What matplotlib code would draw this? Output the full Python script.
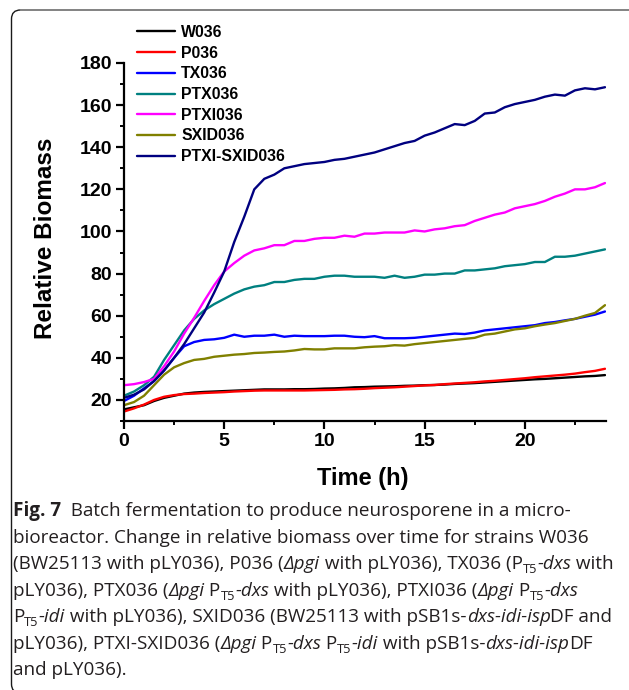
import matplotlib
matplotlib.use("Agg")
import matplotlib.pyplot as plt
from matplotlib.ticker import MultipleLocator
from matplotlib.patches import FancyBboxPatch
from matplotlib.transforms import IdentityTransform
from matplotlib.font_manager import FontProperties

# ---------------- data ----------------
time_h = [0, 0.5, 1, 1.5, 2, 2.5, 3, 3.5, 4, 4.5, 5, 5.5, 6, 6.5, 7, 7.5, 8,
          8.5, 9, 9.5, 10, 10.5, 11, 11.5, 12, 12.5, 13, 13.5, 14, 14.5, 15,
          15.5, 16, 16.5, 17, 17.5, 18, 18.5, 19, 19.5, 20, 20.5, 21, 21.5,
          22, 22.5, 23, 23.5, 24]

W036 = [15.5, 16.5, 17.5, 19.5, 21, 22, 23, 23.5, 23.8, 24, 24.2, 24.4, 24.6,
        24.8, 25, 25, 25, 25.1, 25.1, 25.2, 25.4, 25.5, 25.7, 26, 26.1, 26.3,
        26.4, 26.5, 26.7, 26.8, 27, 27.1, 27.3, 27.6, 27.8, 28, 28.3, 28.6,
        28.9, 29.2, 29.5, 29.8, 30, 30.3, 30.6, 30.9, 31.2, 31.4, 31.8]
P036 = [14.5, 16, 17.8, 20, 21.5, 22.3, 22.8, 23, 23.3, 23.5, 23.7, 24, 24.2,
        24.4, 24.5, 24.5, 24.5, 24.5, 24.5, 24.6, 24.7, 24.8, 25, 25.1, 25.3,
        25.6, 25.8, 26, 26.3, 26.6, 26.9, 27.1, 27.5, 27.8, 28.1, 28.4, 28.8,
        29.1, 29.5, 29.9, 30.3, 30.8, 31.2, 31.6, 32, 32.5, 33.2, 33.8, 34.8]
TX036 = [19.5, 22, 25.5, 29, 34, 40, 45.5, 47.5, 48.5, 48.8, 49.5, 51, 50,
         50.5, 50.5, 51, 50, 50.5, 50.3, 50.3, 50.3, 50.5, 50.5, 50, 49.8,
         50.3, 49.3, 49.3, 49.3, 49.5, 50, 50.5, 51, 51.5, 51.3, 52, 53, 53.5,
         54, 54.5, 55, 55.5, 56.5, 57, 57.8, 58.5, 59.5, 60.5, 62]
PTX036 = [22, 24, 27, 31, 39, 46, 53, 58.5, 62.5, 65.5, 68, 70.5, 72.5, 73.8,
          74.5, 76, 76, 77, 77.5, 77.5, 78.5, 79, 79, 78.5, 78.5, 78.5, 78,
          79, 78, 78.5, 79.5, 79.5, 80, 80, 81.5, 81.5, 82, 82.5, 83.5, 84,
          84.5, 85.5, 85.5, 88, 88, 88.5, 89.5, 90.5, 91.5]
PTXI036 = [27, 27.5, 28.5, 30, 36, 43, 51.5, 59, 67, 74.5, 81, 85, 88.5, 91,
           92, 93.5, 93.5, 95.5, 95.5, 96.5, 97, 97, 98, 97.5, 99, 99, 99.5,
           99.5, 99.5, 100.5, 100, 101, 101.5, 102.5, 103, 105, 106.5, 108,
           109, 111, 112, 113, 114.5, 116.5, 118, 120, 120, 121, 123]
SXID036 = [17.5, 19, 22, 27, 32, 35.5, 37.5, 39, 39.5, 40.5, 41, 41.5, 41.8,
           42.3, 42.5, 42.8, 43, 43.5, 44.2, 44, 44, 44.5, 44.5, 44.5, 45,
           45.3, 45.5, 46, 45.8, 46.5, 47, 47.5, 48, 48.5, 49, 49.5, 51, 51.5,
           52.5, 53.5, 54, 55, 55.8, 56.5, 57.5, 58.5, 60, 61.3, 65]
PTXI_SXID036 = [21, 22.5, 25, 29, 34, 40, 46.5, 54, 61.5, 71, 81, 95, 107,
                120, 125, 127, 130, 131, 132, 132.5, 133, 134, 134.5, 135.5,
                136.5, 137.5, 139, 140.5, 142, 143, 145.5, 147, 149, 151,
                150.5, 152.5, 156, 156.5, 159, 160.5, 161.5, 162.5, 164, 165,
                164.5, 167, 168, 167.5, 168.5]

series_names = ["W036", "P036", "TX036", "PTX036", "PTXI036", "SXID036",
                "PTXI-SXID036"]
series_values = [W036, P036, TX036, PTX036, PTXI036, SXID036, PTXI_SXID036]
series_colors = ["#000000", "#ff0000", "#0000ff", "#008080", "#ff00ff",
                 "#808000", "#000080"]

x_ticks = [0, 5, 10, 15, 20]
y_ticks = [20, 40, 60, 80, 100, 120, 140, 160, 180]
x_label = "Time (h)"
y_label = "Relative Biomass"

# ---------------- figure ----------------
W, H = 629, 690
fig = plt.figure(figsize=(W / 100, H / 100), dpi=100)
fig.patch.set_facecolor("white")


def fx(x):
    return x / W


def fy(y):
    return 1 - y / H


ax = fig.add_axes([fx(124), fy(421), (606 - 124) / W, (421 - 63) / H])
for name, vals, col in zip(series_names, series_values, series_colors):
    ax.plot(time_h, vals, color=col, lw=1.7, label=name, solid_capstyle="round")

ax.set_xlim(0, 24.05)
ax.set_ylim(10, 180)
ax.set_xticks(x_ticks)
ax.set_yticks(y_ticks)
ax.xaxis.set_minor_locator(MultipleLocator(2.5))
ax.yaxis.set_minor_locator(MultipleLocator(10))
for s in ["top", "right"]:
    ax.spines[s].set_visible(False)
for s in ["left", "bottom"]:
    ax.spines[s].set_linewidth(1.6)
ax.tick_params(which="major", direction="out", length=5.5, width=1.6,
               labelsize=14, pad=3)
ax.tick_params(which="minor", direction="out", length=3, width=1.4)
for lab in ax.get_xticklabels() + ax.get_yticklabels():
    lab.set_fontfamily("Liberation Sans")
    lab.set_fontweight("bold")

fig.text(fx(46), fy(238), y_label, rotation=90, ha="center", va="center",
         fontsize=17.5, fontweight="bold", family="Liberation Sans")
fig.text(fx(363), fy(479), x_label, ha="center", va="center",
         fontsize=17, fontweight="bold", family="Liberation Sans")

leg = ax.legend(loc="upper left", bbox_to_anchor=(fx(137), fy(25)),
                bbox_transform=fig.transFigure, frameon=False,
                prop=FontProperties(family="Liberation Sans", weight="bold",
                                    size=11.4),
                handlelength=2.4, handletextpad=0.4, labelspacing=0.36,
                borderpad=0, borderaxespad=0)
for h in leg.get_lines():
    h.set_linewidth(1.7)

# ---------------- rounded frame ----------------
box = FancyBboxPatch((11.5, H - 693), 640 - 11.5, 693 - 10,
                     boxstyle="round,pad=0,rounding_size=9",
                     transform=IdentityTransform(), fill=False,
                     edgecolor="#1a1a1a", lw=1.0, clip_on=False)
fig.patches.append(box)
fig.add_artist(plt.Line2D([21, 631], [H - 10, H - 10],
                          transform=IdentityTransform(), color="#8a8a8a",
                          lw=1.3))

# ---------------- caption ----------------
CAP_FONT = "Open Sans"
CAP_SIZE = 13.6
renderer = fig.canvas.get_renderer()


def make_prop(style, size):
    return FontProperties(family=CAP_FONT, size=size,
                          weight="bold" if style == "b" else "normal",
                          style="italic" if style == "i" else "normal")


def text_width(s, prop):
    t = fig.text(0, 0, "I" + s + "I", fontproperties=prop)
    w1 = t.get_window_extent(renderer).width
    t.remove()
    t = fig.text(0, 0, "II", fontproperties=prop)
    w2 = t.get_window_extent(renderer).width
    t.remove()
    return w1 - w2


def draw_runs(x0, baseline, runs):
    x = x0
    for s, style in runs:
        if style == "sub":
            prop = make_prop("n", CAP_SIZE * 0.68)
            yb = baseline + 4
        else:
            prop = make_prop(style, CAP_SIZE)
            yb = baseline
        fig.text(fx(x), fy(yb), s, fontproperties=prop, color="#231f20",
                 va="baseline", ha="left")
        x += text_width(s, prop)


n, b, i, sub = "n", "b", "i", "sub"
caption_lines = [
    [("Fig. 7", b), ("  Batch fermentation to produce neurosporene in a micro-", n)],
    [("bioreactor. Change in relative biomass over time for strains W036", n)],
    [("(BW25113 with pLY036), P036 (", n), ("Δpgi", i), (" with pLY036), TX036 (P", n),
     ("T5", sub), ("-dxs", i), (" with", n)],
    [("pLY036), PTX036 (", n), ("Δpgi", i), (" P", n), ("T5", sub), ("-dxs", i),
     (" with pLY036), PTXI036 (", n), ("Δpgi", i), (" P", n), ("T5", sub), ("-dxs", i)],
    [("P", n), ("T5", sub), ("-idi", i), (" with pLY036), SXID036 (BW25113 with pSB1s-", n),
     ("dxs-idi-isp", i), ("DF and", n)],
    [("pLY036), PTXI-SXID036 (", n), ("Δpgi", i), (" P", n), ("T5", sub), ("-dxs", i),
     (" P", n), ("T5", sub), ("-idi", i), (" with pSB1s-", n), ("dxs-idi-isp", i), ("DF", n)],
    [("and pLY036).", n)],
]
baselines = [516, 543, 569, 596, 622, 649, 675]
for runs, yb in zip(caption_lines, baselines):
    draw_runs(13, yb, runs)

fig.savefig("out.png", dpi=100, facecolor="white")
